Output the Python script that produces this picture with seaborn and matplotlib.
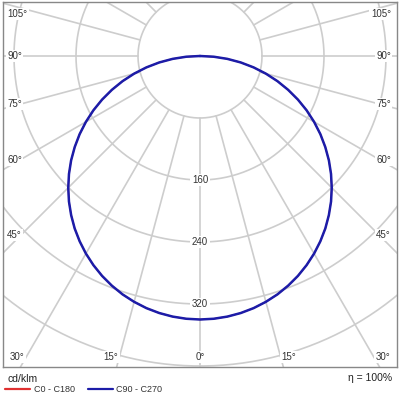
import numpy as np
import pandas as pd
import matplotlib
matplotlib.use("Agg")
import matplotlib.pyplot as plt
import seaborn as sns

# luminous intensity (cd/klm), gamma 0..90 deg in 3 deg steps
GAMMA = [0, 3, 6, 9, 12, 15, 18, 21, 24, 27, 30, 33, 36, 39, 42, 45,
         48, 51, 54, 57, 60, 63, 66, 69, 72, 75, 78, 81, 84, 87, 90]
I_C0_C180 = [340.0, 339.5, 338.1, 335.8, 332.6, 328.4, 323.4, 317.4, 310.6, 302.9, 294.4, 285.1,
             275.1, 264.2, 252.7, 240.4, 227.5, 214.0, 199.8, 185.2, 170.0, 154.4, 138.3, 121.8,
             105.1, 88.0, 70.7, 53.2, 35.5, 17.8, 0.0]
I_C90_C270 = [340.0, 339.5, 338.1, 335.8, 332.6, 328.4, 323.4, 317.4, 310.6, 302.9, 294.4, 285.1,
              275.1, 264.2, 252.7, 240.4, 227.5, 214.0, 199.8, 185.2, 170.0, 154.4, 138.3, 121.8,
              105.1, 88.0, 70.7, 53.2, 35.5, 17.8, 0.0]

RINGS = [80, 160, 240, 320, 400, 480, 560]
RING_LABELS = [160, 240, 320]
SIDE_ANGLES = [105, 90, 75, 60, 45]
BOTTOM_ANGLES = [30, 15, 0]

sns.set_style("white")
plt.rcParams["font.family"] = ["Liberation Sans", "DejaVu Sans"]

fig = plt.figure(figsize=(4, 4), dpi=100)
# pixel -> data: 0.775 px per cd/klm, pole at (200, 56)
S = 0.775
ax = fig.add_axes([3 / 400, 33 / 400, 394 / 400, 365 / 400])
ax.set_xlim(-197 / S, 197 / S)
ax.set_ylim(-311 / S, 54 / S)


def px(x, y):
    return (x - 200) / S, -(y - 56) / S


grid_c = "#cdcdcd"
t = np.linspace(0, 2 * np.pi, 400)
for r in RINGS:
    ax.plot(r * np.cos(t), r * np.sin(t), color=grid_c, lw=1.2, zorder=1)
for a in range(0, 360, 15):
    rad = np.deg2rad(a)
    ax.plot([80 * np.sin(rad), 900 * np.sin(rad)], [-80 * np.cos(rad), -900 * np.cos(rad)],
            color=grid_c, lw=1.2, zorder=1)


def curve(vals, name):
    g = np.deg2rad(np.array(GAMMA))
    v = np.array(vals)
    left = pd.DataFrame({"x": -v * np.sin(g), "y": -v * np.cos(g)})[::-1]
    right = pd.DataFrame({"x": v * np.sin(g), "y": -v * np.cos(g)})
    d = pd.concat([left, right], ignore_index=True)
    d["plane"] = name
    return d


RED = "#e03030"
BLUE = "#1c1ca8"
sns.lineplot(data=curve(I_C0_C180, "C0 - C180"), x="x", y="y", estimator=None, sort=False,
             color=RED, lw=1.0, ax=ax, zorder=2)
sns.lineplot(data=curve(I_C90_C270, "C90 - C270"), x="x", y="y", estimator=None, sort=False,
             color=BLUE, lw=1.8, ax=ax, zorder=3)
ax.set_xlabel("")
ax.set_ylabel("")

box = dict(boxstyle="square,pad=0.15", fc="white", ec="none")
tk = dict(fontsize=7, color="#333333", bbox=box, zorder=4, va="center")
side_y = [14, 56, 104, 160, 235]
for a, yy in zip(SIDE_ANGLES, side_y):
    ax.text(*px(7, yy), f"{a}°", ha="left", **tk)
    ax.text(*px(391, yy), f"{a}°", ha="right", **tk)
for a, xx in zip(BOTTOM_ANGLES, [17, 111, 200]):
    ax.text(*px(xx, 357), f"{a}°", ha="center", **tk)
    if a:
        ax.text(*px(400 - xx, 357), f"{a}°", ha="center", **tk)
for r in RING_LABELS:
    ax.text(0, -r, str(r), ha="center", **tk)

ax.set_xticks([])
ax.set_yticks([])
for sp in ax.spines.values():
    sp.set_color("#888888")
    sp.set_linewidth(1.0)

fig.text(8 / 400, 1 - 379 / 400, "cd/klm", fontsize=7.5, color="#222222", va="center")
fig.text(392 / 400, 1 - 378 / 400, "η = 100%", fontsize=7.5, color="#222222", va="center", ha="right")
fig.lines.append(plt.Line2D([5 / 400, 30 / 400], [1 - 389 / 400] * 2, color=RED, lw=1.6,
                            transform=fig.transFigure))
fig.lines.append(plt.Line2D([88 / 400, 113 / 400], [1 - 389 / 400] * 2, color=BLUE, lw=1.6,
                            transform=fig.transFigure))
fig.text(34 / 400, 1 - 390 / 400, "C0 - C180", fontsize=6.5, color="#333333", va="center")
fig.text(116 / 400, 1 - 390 / 400, "C90 - C270", fontsize=6.5, color="#333333", va="center")

fig.savefig("out.png", dpi=100)
